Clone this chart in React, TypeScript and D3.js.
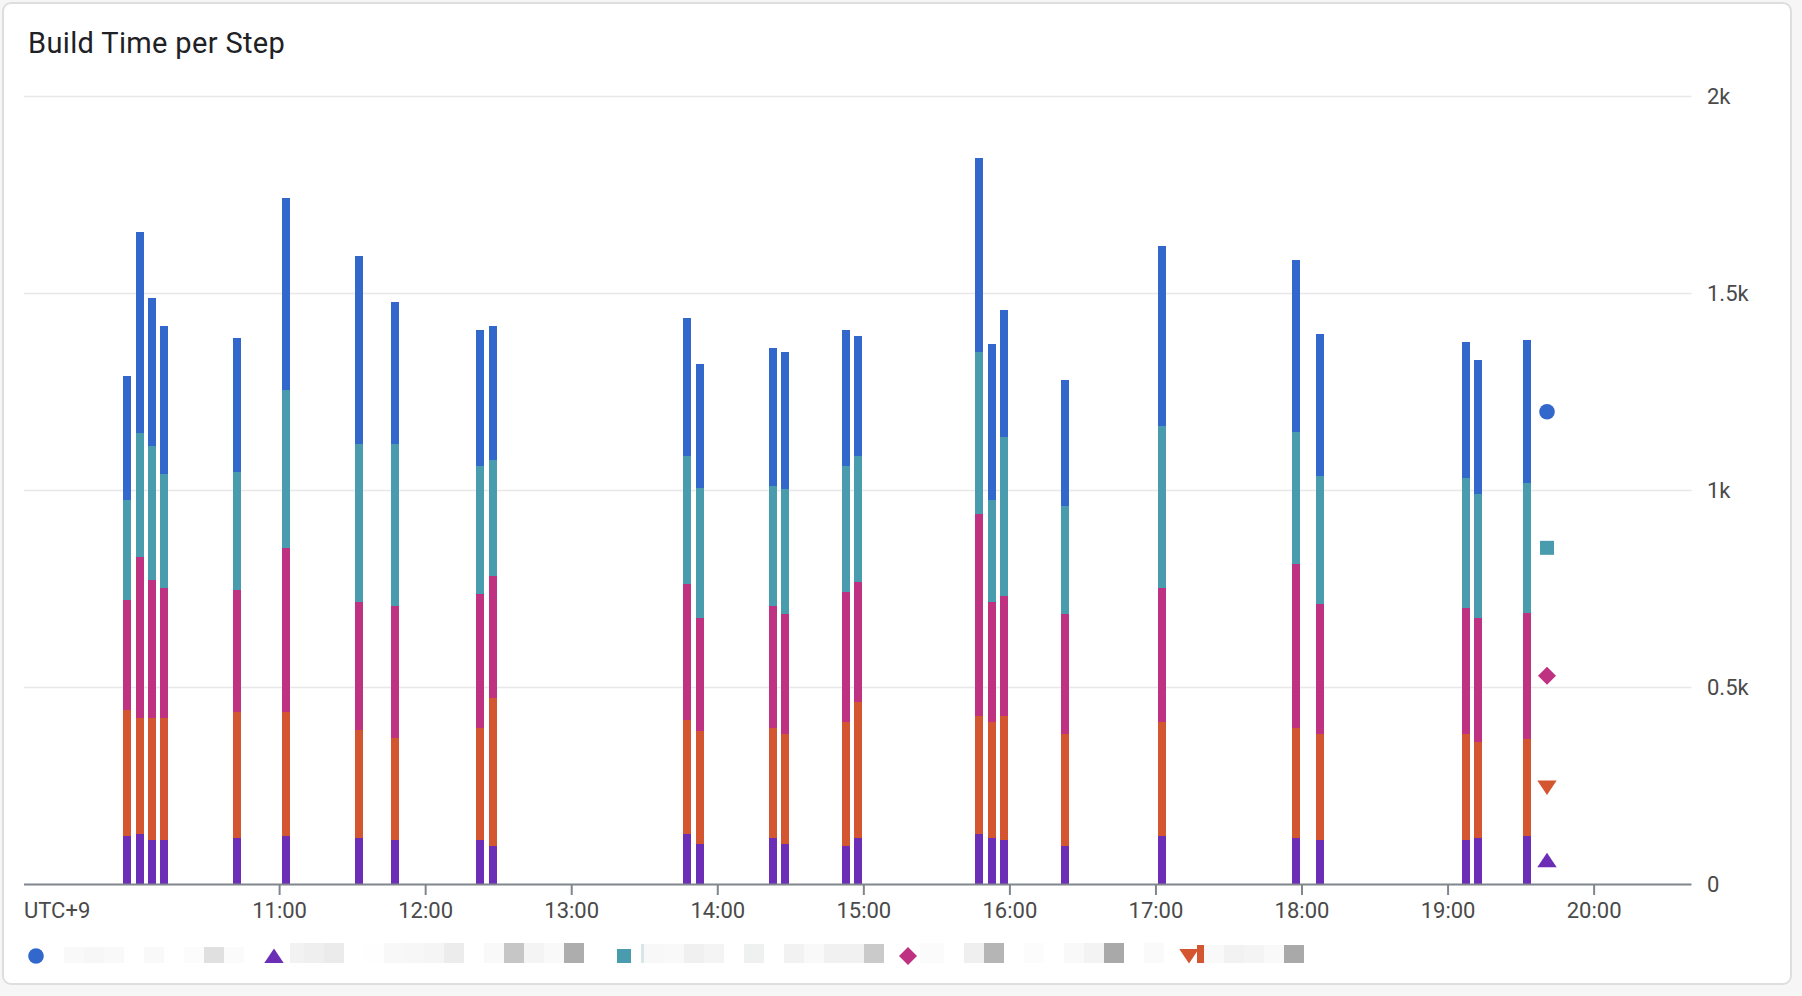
import React from 'react';
import * as d3 from 'd3';

// ---------- data ----------
const chartTitle = 'Build Time per Step';
const zoneLabel = 'UTC+9';

// start of each 5-minute bucket that holds a build
const bucketStarts = [
  '09:55', '10:00', '10:05', '10:10', '10:40', '11:00', '11:30', '11:45', '12:20', '12:25',
  '13:45', '13:50', '14:20', '14:25', '14:50', '14:55', '15:45', '15:50', '15:55', '16:20',
  '17:00', '17:55', '18:05', '19:05', '19:10', '19:30',
];

// step durations (seconds), bottom to top of each stack
const stepPurple = [123, 127, 112, 112, 118, 123, 118, 112, 113, 98, 128, 102, 118, 102, 98, 118, 128, 118, 113, 98, 123, 118, 113, 113, 118, 123];
const stepOrange = [320, 295, 311, 311, 319, 314, 273, 260, 284, 376, 290, 288, 279, 279, 314, 345, 300, 294, 314, 284, 289, 279, 268, 268, 243, 247];
const stepPink = [278, 410, 350, 329, 310, 417, 325, 335, 340, 308, 345, 287, 309, 305, 330, 305, 512, 306, 305, 305, 340, 417, 331, 321, 316, 320];
const stepTeal = [254, 315, 340, 290, 300, 401, 401, 410, 324, 295, 324, 329, 305, 319, 319, 319, 411, 257, 405, 274, 412, 334, 325, 329, 314, 329];
const stepBlue = [316, 509, 376, 375, 340, 488, 477, 361, 346, 340, 351, 316, 350, 346, 346, 305, 492, 397, 321, 319, 456, 436, 359, 345, 340, 362];

const yTickValues = [0, 500, 1000, 1500, 2000];
const yTickLabels = ['0', '0.5k', '1k', '1.5k', '2k'];
const xTickLabels = ['11:00', '12:00', '13:00', '14:00', '15:00', '16:00', '17:00', '18:00', '19:00', '20:00'];

// ---------- styling ----------
const W = 1802;
const H = 996;
const FONT = 'Roboto, "Noto Sans", sans-serif';
const COLORS: Record<string, string> = {
  purple: '#6c2db7',
  orange: '#d45631',
  pink: '#bf3282',
  teal: '#499cae',
  blue: '#3267cc',
};
const stackKeys = ['purple', 'orange', 'pink', 'teal', 'blue'];

type Shape = 'circle' | 'triangleUp' | 'triangleDown' | 'square' | 'diamond';
const shapeOf: Record<string, Shape> = {
  blue: 'circle',
  purple: 'triangleUp',
  teal: 'square',
  pink: 'diamond',
  orange: 'triangleDown',
};

function Marker({ shape, cx, cy, color, s = 1 }: { shape: Shape; cx: number; cy: number; color: string; s?: number }) {
  switch (shape) {
    case 'circle':
      return <circle cx={cx} cy={cy} r={7.8 * s} fill={color} />;
    case 'square':
      return <rect x={cx - 7 * s} y={cy - 7 * s} width={14 * s} height={14 * s} fill={color} />;
    case 'diamond':
      return <path d={`M${cx},${cy - 9 * s}L${cx + 9 * s},${cy}L${cx},${cy + 9 * s}L${cx - 9 * s},${cy}Z`} fill={color} />;
    case 'triangleUp':
      return <path d={`M${cx},${cy - 7.5 * s}L${cx + 9.7 * s},${cy + 7 * s}L${cx - 9.7 * s},${cy + 7 * s}Z`} fill={color} />;
    case 'triangleDown':
      return <path d={`M${cx - 9.7 * s},${cy - 7 * s}L${cx + 9.7 * s},${cy - 7 * s}L${cx},${cy + 7.5 * s}Z`} fill={color} />;
  }
}

// legend: series order, marker centre x; legend text is pixelated in the reference
const legendOrder = ['blue', 'purple', 'teal', 'pink', 'orange'];
const legendMarkerX = [36, 274, 624, 908, 1189];
// pixelated label mosaic (decorative): [x, width, shade, top]
const legendMosaic: [number, number, string, number][] = [
  [64, 20, '#f9f9f9', 947], [84, 20, '#f7f7f7', 947], [104, 20, '#f9f9f9', 947], [144, 20, '#f9f9f9', 947],
  [184, 20, '#fcfcfc', 947], [204, 20, '#e0e0e0', 947], [224, 20, '#fbfbfb', 947],
  [290, 14, '#f2f2f2', 943], [304, 20, '#efefef', 943], [324, 20, '#ebebeb', 943], [364, 20, '#fefefe', 943],
  [384, 20, '#f8f8f8', 943], [404, 20, '#f7f7f7', 943], [424, 20, '#f5f5f5', 943], [444, 20, '#ececec', 943],
  [484, 20, '#f9f9f9', 943], [504, 20, '#c6c6c6', 943], [524, 20, '#f4f4f4', 943], [544, 20, '#f9f9f9', 943],
  [564, 20, '#adadad', 943],
  [641, 3, '#d8e6e8', 944], [644, 20, '#f8f8f8', 944], [664, 20, '#f9f9f9', 944], [684, 20, '#f0f0f0', 944],
  [704, 20, '#f4f4f4', 944], [744, 20, '#eff1f1', 944], [784, 20, '#f2f2f2', 944], [804, 20, '#f9f9f9', 944],
  [824, 20, '#f1f1f1', 944], [844, 20, '#f1f1f1', 944], [864, 20, '#cacaca', 944],
  [920, 24, '#fafbfa', 943], [964, 20, '#efefef', 943], [984, 20, '#b5b5b5', 943], [1024, 20, '#fcfcfc', 943],
  [1064, 20, '#f9f9f9', 943], [1084, 20, '#f3f3f3', 943], [1104, 20, '#a9a9a9', 943], [1144, 20, '#fafafa', 943],
  [1197, 7, '#d45631', 945], [1204, 20, '#f9f9f9', 945], [1224, 20, '#f2f2f2', 945], [1244, 20, '#f4f4f4', 945],
  [1264, 20, '#f9f9f9', 945], [1284, 20, '#a9a9a9', 945],
];

export default function App() {
  const parse = d3.timeParse('%H:%M');
  const x = d3
    .scaleTime()
    .domain([parse('09:15') as Date, parse('20:40') as Date])
    .range([24, 1691.5]);
  const y = d3.scaleLinear().domain([0, 2000]).range([884.5, 96.5]);

  const rows = bucketStarts.map((t, i) => ({
    t: parse(t) as Date,
    purple: stepPurple[i],
    orange: stepOrange[i],
    pink: stepPink[i],
    teal: stepTeal[i],
    blue: stepBlue[i],
  }));
  const stacked = d3.stack<any>().keys(stackKeys)(rows as any);

  const bucketMs = 5 * 60 * 1000;
  const barX = (t: Date) => {
    const x0 = x(t);
    const x1 = x(new Date(t.getTime() + bucketMs));
    const bw = x1 - x0;
    const w = 8;
    return { x: Math.round(x0 + (bw - w) / 2), w };
  };

  const lastIdx = rows.length - 1;
  const lastCenter = barX(rows[lastIdx].t).x + 4;
  const endMarkerX = lastCenter + 20;

  const xTicks = xTickLabels.map((l) => ({ label: l, pos: x(parse(l) as Date) }));

  return (
    <svg
      width={W}
      height={H}
      viewBox={`0 0 ${W} ${H}`}
      style={{ position: 'absolute', left: 0, top: 0, fontFamily: FONT }}
    >
      <rect x={0} y={0} width={W} height={H} fill="#f6f6f6" />
      <rect x={3} y={3} width={1788} height={981} rx={8} ry={8} fill="#fff" stroke="#dedede" strokeWidth={2} />

      <text x={28} y={53} fontSize={29} letterSpacing={0.35} fill="#202124">
        {chartTitle}
      </text>

      {/* grid */}
      {yTickValues.map((v, i) => (
        <g key={`g${v}`}>
          {v > 0 && (
            <line x1={24} x2={1691.5} y1={y(v)} y2={y(v)} stroke="#e8e8e8" strokeWidth={1.6} />
          )}
          <text x={1707} y={y(v)} dy="0.36em" fontSize={22} fill="#4a4a4a">
            {yTickLabels[i]}
          </text>
        </g>
      ))}

      {/* bars */}
      <g shapeRendering="crispEdges">
        {stacked.map((layer) => (
          <g key={layer.key} fill={COLORS[layer.key]}>
            {layer.map((d: any, i: number) => {
              const { x: bx, w } = barX(rows[i].t);
              return <rect key={i} x={bx} width={w} y={y(d[1])} height={y(d[0]) - y(d[1])} />;
            })}
          </g>
        ))}
      </g>

      {/* x axis */}
      <line x1={24} x2={1691.5} y1={884.5} y2={884.5} stroke="#80868b" strokeWidth={2} />
      {xTicks.map((t) => (
        <g key={t.label}>
          <line x1={t.pos} x2={t.pos} y1={885} y2={895} stroke="#80868b" strokeWidth={2} />
          <text x={t.pos} y={918} fontSize={22} fill="#4a4a4a" textAnchor="middle">
            {t.label}
          </text>
        </g>
      ))}
      <text x={24} y={918} fontSize={22} fill="#4a4a4a">
        {zoneLabel}
      </text>

      {/* end-of-series markers next to the latest bar */}
      {stacked.map((layer) => {
        const d = layer[lastIdx] as any;
        const cy = y((d[0] + d[1]) / 2);
        return <Marker key={`m${layer.key}`} shape={shapeOf[layer.key]} cx={endMarkerX} cy={cy} color={COLORS[layer.key]} />;
      })}

      {/* legend */}
      {legendMosaic.map(([mx, mw, shade, top], i) => (
        <rect key={`lm${i}`} x={mx} y={top} width={mw} height={963 - top} fill={shade} />
      ))}
      {legendOrder.map((k, i) => (
        <Marker key={`l${k}`} shape={shapeOf[k]} cx={legendMarkerX[i]} cy={956} color={COLORS[k]} />
      ))}
    </svg>
  );
}
